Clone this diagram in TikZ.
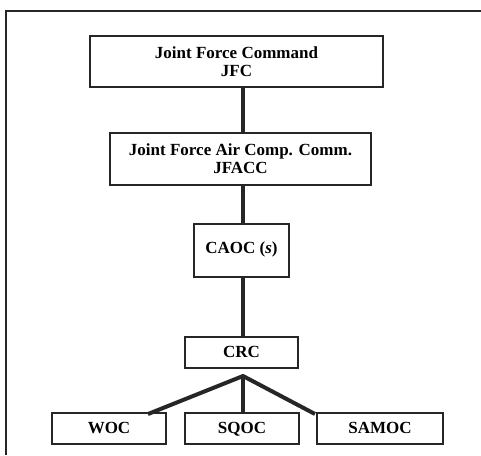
\documentclass[tikz,border=0pt]{standalone}
\usepackage{fontspec}
\setmainfont{Liberation Serif}
\begin{document}
\begin{tikzpicture}[x=1pt,y=-1pt,
  box/.style={draw=black!85, line width=1.3pt, fill=white, inner sep=0pt, align=center,
    font=\fontsize{17}{18}\selectfont\bfseries},
  onebox/.style={box, text height=10pt, text depth=0.5pt},
  link/.style={line width=4pt, draw=black!85}]
\useasboundingbox (0,0) rectangle (481,455);
\draw[line width=1.4pt, black!85] (6,455) -- (6,11) -- (481,11);
\node[box, minimum width=293, minimum height=51] (jfc) at (236.5,61.5) {Joint Force Command\\JFC};
\node[box, minimum width=261, minimum height=52] (jfacc) at (240.5,159) {Joint Force Air Comp. Comm.\\JFACC};
\node[box, minimum width=95, minimum height=53] (caoc) at (241.5,250.5) {\raisebox{5pt}{CAOC (\textit{s})}};
\node[onebox, minimum width=113, minimum height=31] (crc) at (241.5,352.5) {CRC};
\node[onebox, minimum width=114, minimum height=31] (woc) at (109,428.5) {WOC};
\node[onebox, minimum width=114, minimum height=31] (sqoc) at (242,428.5) {SQOC};
\node[onebox, minimum width=126, minimum height=31] (samoc) at (380,428.5) {SAMOC};
\coordinate (br) at (243,376);
\draw[link] (jfc.south -| br) -- (jfacc.north -| br);
\draw[link] (jfacc.south -| br) -- (caoc.north -| br);
\draw[link] (caoc.south -| br) -- (crc.north -| br);
\draw[link, line join=round] (148,414) -- (br) -- (315,414);
\draw[link] (br) -- (sqoc.north -| br);
\end{tikzpicture}
\end{document}
